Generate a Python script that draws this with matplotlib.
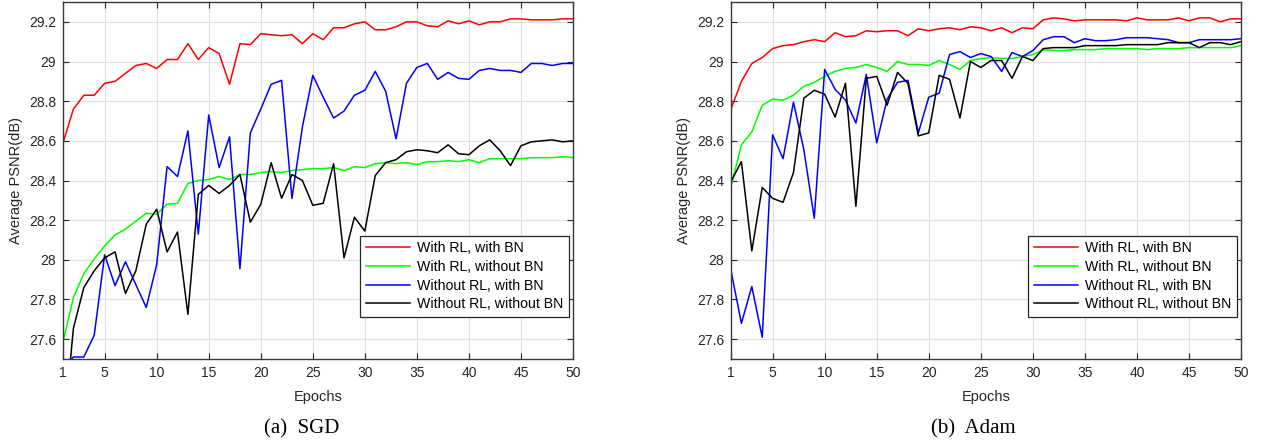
import numpy as np
import matplotlib
matplotlib.use('Agg')
import matplotlib.pyplot as plt

plt.rcParams['font.family'] = ['Liberation Sans', 'DejaVu Sans']

epochs = np.arange(1, 51)
labels = ['With RL, with BN', 'With RL, without BN',
          'Without RL, with BN', 'Without RL, without BN']
colors = ['#ff0000', '#00ff00', '#0000ff', '#000000']

# SGD
red_sgd = [28.59, 28.76, 28.83, 28.83, 28.89, 28.90, 28.94, 28.98, 28.99, 28.965,
           29.01, 29.01, 29.09, 29.01, 29.07, 29.04, 28.885, 29.09, 29.085, 29.14,
           29.135, 29.13, 29.135, 29.09, 29.14, 29.11, 29.17, 29.17, 29.19, 29.20,
           29.16, 29.16, 29.175, 29.20, 29.20, 29.18, 29.175, 29.205, 29.19, 29.205,
           29.185, 29.20, 29.20, 29.215, 29.215, 29.21, 29.21, 29.21, 29.215, 29.215]
green_sgd = [27.585, 27.81, 27.93, 28.005, 28.07, 28.125, 28.155, 28.195, 28.235, 28.23,
             28.28, 28.285, 28.385, 28.40, 28.405, 28.42, 28.405, 28.43, 28.43, 28.44,
             28.445, 28.44, 28.45, 28.455, 28.46, 28.46, 28.465, 28.45, 28.47, 28.465,
             28.485, 28.49, 28.485, 28.49, 28.48, 28.495, 28.495, 28.50, 28.495, 28.505,
             28.49, 28.51, 28.51, 28.51, 28.51, 28.515, 28.515, 28.515, 28.52, 28.515]
blue_sgd = [27.45, 27.51, 27.51, 27.62, 28.025, 27.87, 27.99, 27.875, 27.76, 27.975,
            28.47, 28.42, 28.65, 28.13, 28.73, 28.465, 28.62, 27.955, 28.64, 28.76,
            28.885, 28.905, 28.31, 28.67, 28.93, 28.82, 28.715, 28.75, 28.83, 28.855,
            28.95, 28.85, 28.61, 28.89, 28.97, 28.99, 28.91, 28.945, 28.915, 28.91,
            28.955, 28.965, 28.955, 28.955, 28.945, 28.99, 28.99, 28.98, 28.99, 28.99]
black_sgd = [27.1, 27.655, 27.86, 27.945, 28.01, 28.04, 27.83, 27.945, 28.18, 28.255,
             28.04, 28.14, 27.725, 28.33, 28.375, 28.335, 28.375, 28.43, 28.19, 28.28,
             28.49, 28.31, 28.43, 28.40, 28.275, 28.285, 28.485, 28.01, 28.215, 28.145,
             28.425, 28.49, 28.505, 28.545, 28.555, 28.55, 28.54, 28.58, 28.535, 28.53,
             28.575, 28.605, 28.55, 28.475, 28.575, 28.595, 28.60, 28.605, 28.595, 28.60]

# Adam
red_adam = [28.76, 28.90, 28.99, 29.02, 29.065, 29.08, 29.085, 29.10, 29.11, 29.10,
            29.145, 29.125, 29.13, 29.155, 29.15, 29.155, 29.155, 29.13, 29.165, 29.155,
            29.165, 29.17, 29.16, 29.175, 29.17, 29.155, 29.17, 29.145, 29.17, 29.165,
            29.21, 29.22, 29.215, 29.205, 29.21, 29.21, 29.21, 29.21, 29.205, 29.22,
            29.21, 29.21, 29.21, 29.22, 29.205, 29.22, 29.22, 29.20, 29.215, 29.215]
green_adam = [28.37, 28.58, 28.645, 28.78, 28.81, 28.805, 28.83, 28.875, 28.895, 28.925,
              28.95, 28.965, 28.97, 28.985, 28.97, 28.95, 29.00, 28.985, 28.985, 28.98,
              29.005, 28.985, 28.96, 29.005, 29.015, 29.02, 29.015, 29.015, 29.025, 29.035,
              29.06, 29.055, 29.055, 29.06, 29.06, 29.06, 29.065, 29.065, 29.065, 29.065,
              29.06, 29.065, 29.065, 29.065, 29.07, 29.07, 29.07, 29.07, 29.07, 29.08]
blue_adam = [27.945, 27.68, 27.865, 27.61, 28.63, 28.51, 28.795, 28.555, 28.21, 28.96,
             28.86, 28.805, 28.69, 28.935, 28.59, 28.81, 28.895, 28.905, 28.64, 28.82,
             28.84, 29.035, 29.05, 29.02, 29.04, 29.025, 28.95, 29.045, 29.025, 29.055,
             29.11, 29.125, 29.125, 29.095, 29.115, 29.105, 29.105, 29.11, 29.12, 29.12,
             29.12, 29.115, 29.11, 29.095, 29.095, 29.11, 29.11, 29.11, 29.11, 29.115]
black_adam = [28.395, 28.495, 28.045, 28.365, 28.31, 28.29, 28.44, 28.815, 28.855, 28.835,
              28.72, 28.89, 28.27, 28.915, 28.925, 28.78, 28.945, 28.89, 28.625, 28.64,
              28.93, 28.91, 28.715, 29.00, 28.97, 29.005, 29.005, 28.915, 29.025, 29.005,
              29.065, 29.07, 29.07, 29.07, 29.08, 29.08, 29.08, 29.08, 29.085, 29.085,
              29.085, 29.085, 29.095, 29.095, 29.095, 29.07, 29.095, 29.095, 29.085, 29.10]

xticks = [1, 5, 10, 15, 20, 25, 30, 35, 40, 45, 50]
yticks = [27.6, 27.8, 28.0, 28.2, 28.4, 28.6, 28.8, 29.0, 29.2]
captions = ['(a)  SGD', '(b)  Adam']

W, H = 1263, 446
fig = plt.figure(figsize=(W / 100, H / 100), dpi=100)

def make_axes(x0, series, caption, cap_x):
    ax = fig.add_axes([x0 / W, (H - 359) / H, 510 / W, 357 / H])
    for ys, c, lab in zip(series, colors, labels):
        ax.plot(epochs, ys, color=c, lw=1.1, label=lab)
    ax.set_xlim(1, 50)
    ax.set_ylim(27.5, 29.3)
    ax.set_xticks(xticks)
    ax.set_yticks(yticks)
    ax.set_yticklabels(['%g' % v for v in yticks])
    ax.grid(True, color='#e0e0e0', lw=0.9)
    ax.set_axisbelow(True)
    ax.tick_params(direction='in', top=True, right=True, length=4,
                   labelsize=10, colors='#262626', pad=5)
    for s in ax.spines.values():
        s.set_color('#3a3a3a')
        s.set_linewidth(1.0)
    ax.set_xlabel('Epochs', fontsize=10.5, color='#262626', labelpad=7)
    ax.set_ylabel('Average PSNR(dB)', fontsize=10.5, color='#262626', labelpad=4)
    leg = ax.legend(loc='lower right', bbox_to_anchor=(0.992, 0.118),
                    borderaxespad=0, fancybox=False, fontsize=10.2,
                    handlelength=3.1, labelspacing=0.33, borderpad=0.4,
                    handletextpad=0.5, framealpha=1)
    leg.get_frame().set_edgecolor('#262626')
    leg.get_frame().set_linewidth(0.9)
    fig.text(cap_x / W, 1 - 429 / H, caption, ha='center', va='center',
             fontsize=15, family=['Liberation Serif', 'DejaVu Serif'])
    return ax

make_axes(63, [red_sgd, green_sgd, blue_sgd, black_sgd], captions[0], 302)
make_axes(731, [red_adam, green_adam, blue_adam, black_adam], captions[1], 973)

fig.savefig('out.png', dpi=100)
